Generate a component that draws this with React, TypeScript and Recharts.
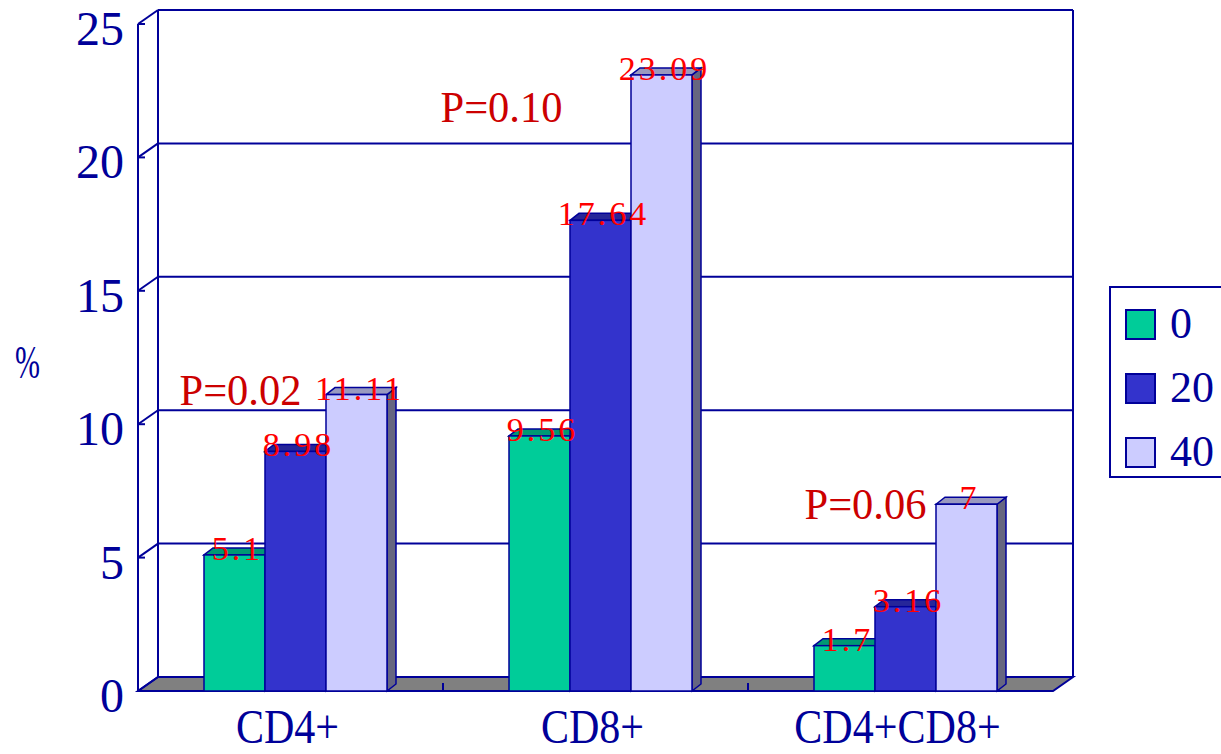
import React from "react";
import {
  BarChart,
  Bar,
  XAxis,
  YAxis,
  CartesianGrid,
  Legend,
  LabelList,
  ReferenceDot,
} from "recharts";

const categories = ["CD4+", "CD8+", "CD4+CD8+"];
const seriesNames = ["0", "20", "40"];
const series0 = [5.1, 9.56, 1.7];
const series20 = [8.98, 17.64, 3.16];
const series40 = [11.11, 23.09, 7];
const yTicks = [0, 5, 10, 15, 20, 25];
const pLabels = ["P=0.02", "P=0.10", "P=0.06"];
const pLabelLevels = [11.3, 21.9, 7.0];
const pLabelShift = [-50, -94, -35];

const data = categories.map((c, i) => ({
  name: c,
  s0: series0[i],
  s20: series20[i],
  s40: series40[i],
}));

const FONT = "'Liberation Serif', 'DejaVu Serif', serif";
const NAVY = "#000099";
const WALL_DX = 20;
const WALL_DY = -14;
const BAR_DX = 9;
const BAR_DY = -7;
const BAR_SHIFT = 5;

const palette = [
  { front: "#00CC99", top: "#009973", side: "#006B50" },
  { front: "#3333CC", top: "#262699", side: "#1A1A66" },
  { front: "#CCCCFF", top: "#9999BF", side: "#666680" },
];

const renderWall = (p: any) => {
  const { x1, y1, x2, index, x, y, width, height } = p;
  const bottom = y + height;
  const parts: any[] = [];
  if (index === 0) {
    const n = categories.length;
    parts.push(
      <polygon
        key="floor"
        points={`${x},${bottom} ${x + WALL_DX},${bottom + WALL_DY} ${x + width + WALL_DX},${bottom + WALL_DY} ${x + width},${bottom}`}
        fill="#808080"
        stroke={NAVY}
        strokeWidth={2}
      />
    );
    parts.push(
      <line key="lb" x1={x + WALL_DX} y1={y + WALL_DY} x2={x + WALL_DX} y2={bottom + WALL_DY} stroke={NAVY} strokeWidth={2} />
    );
    parts.push(
      <line key="rb" x1={x + width + WALL_DX} y1={y + WALL_DY} x2={x + width + WALL_DX} y2={bottom + WALL_DY} stroke={NAVY} strokeWidth={2} />
    );
    parts.push(
      <line key="fa" x1={x} y1={y} x2={x} y2={bottom + 1} stroke={NAVY} strokeWidth={2} />
    );
    for (let k = 1; k < n; k++) {
      const bx = x + (width * k) / n;
      parts.push(
        <line key={`bt${k}`} x1={bx} y1={bottom} x2={bx} y2={bottom - 8} stroke={NAVY} strokeWidth={2} />
      );
    }
  }
  parts.push(
    <line key="g" x1={x1 + WALL_DX} y1={y1 + WALL_DY} x2={x2 + WALL_DX} y2={y1 + WALL_DY} stroke={NAVY} strokeWidth={2} />
  );
  parts.push(
    <line key="d" x1={x1} y1={y1} x2={x1 + WALL_DX} y2={y1 + WALL_DY} stroke={NAVY} strokeWidth={2} />
  );
  if (Math.abs(y1 - bottom) > 1) {
    parts.push(<line key="t" x1={x1} y1={y1} x2={x1 + 7} y2={y1} stroke={NAVY} strokeWidth={2} />);
  }
  return <g key={p.key}>{parts}</g>;
};

const makeBarShape = (si: number) => (props: any) => {
  const { y, width, height } = props;
  const x = props.x + BAR_SHIFT;
  const c = palette[si];
  if (height == null || width == null) return <g />;
  return (
    <g>
      <polygon
        points={`${x + width},${y} ${x + width + BAR_DX},${y + BAR_DY} ${x + width + BAR_DX},${y + height + BAR_DY} ${x + width},${y + height}`}
        fill={c.side}
        stroke={NAVY}
        strokeWidth={1.5}
      />
      <polygon
        points={`${x},${y} ${x + BAR_DX},${y + BAR_DY} ${x + width + BAR_DX},${y + BAR_DY} ${x + width},${y}`}
        fill={c.top}
        stroke={NAVY}
        strokeWidth={1.5}
      />
      <rect x={x} y={y} width={width} height={height} fill={c.front} stroke={NAVY} strokeWidth={1.5} />
    </g>
  );
};

const renderValueLabel = (props: any) => {
  const { x, y, width, value } = props;
  return (
    <text
      x={x + BAR_SHIFT + width / 2 + 3}
      y={y + 5}
      textAnchor="middle"
      fill="#FF0000"
      fontSize={34}
      fontFamily={FONT}
      letterSpacing={3}
    >
      {String(value)}
    </text>
  );
};

const YTick = (props: any) => {
  const { x, y, payload } = props;
  return (
    <text x={x} y={y + 21} textAnchor="end" fill={NAVY} fontSize={48} fontFamily={FONT}>
      {payload.value}
    </text>
  );
};

const XTick = (props: any) => {
  const { x, y, payload } = props;
  const len = String(payload.value).length * 25.8;
  return (
    <text
      x={x - 3}
      y={y + 44}
      textAnchor="middle"
      fill={NAVY}
      fontSize={48}
      fontFamily={FONT}
      textLength={len}
      lengthAdjust="spacingAndGlyphs"
    >
      {payload.value}
    </text>
  );
};

const PercentLabel = (props: any) => {
  const vb = props.viewBox || { x: 0, y: 0, height: 0 };
  return (
    <text
      x={vb.x + 15}
      y={vb.y + vb.height / 2 + 20}
      fill={NAVY}
      fontSize={46}
      fontFamily={FONT}
      textLength={25}
      lengthAdjust="spacingAndGlyphs"
    >
      %
    </text>
  );
};

const LegendContent = (props: any) => {
  const { payload } = props;
  return (
    <div
      style={{
        width: 110,
        height: 188,
        borderTop: `2px solid ${NAVY}`,
        borderBottom: `2px solid ${NAVY}`,
        borderLeft: `2px solid ${NAVY}`,
        position: "relative",
        background: "#fff",
      }}
    >
      {(payload || []).map((entry: any, i: number) => (
        <div
          key={entry.value}
          style={{ position: "absolute", left: 14, top: 20 + i * 64, height: 32, display: "flex", alignItems: "center" }}
        >
          <div
            style={{
              width: 27,
              height: 27,
              background: palette[i].front,
              border: `2px solid ${NAVY}`,
            }}
          />
          <span
            style={{
              marginLeft: 14,
              fontFamily: FONT,
              fontSize: 44,
              color: NAVY,
              lineHeight: "32px",
            }}
          >
            {entry.value}
          </span>
        </div>
      ))}
    </div>
  );
};

export default function App() {
  return (
    <div style={{ position: "absolute", left: 0, top: 0, width: 1221, height: 754, overflow: "hidden", background: "#fff" }}>
      <BarChart
        width={1221}
        height={754}
        data={data}
        margin={{ top: 24, right: 168, bottom: 0, left: 0 }}
        barCategoryGap="20%"
        barGap={0}
      >
        <CartesianGrid horizontal={renderWall} vertical={false} />
        <XAxis
          dataKey="name"
          height={63}
          axisLine={false}
          tickLine={false}
          tick={<XTick />}
          interval={0}
        />
        <YAxis
          width={138}
          domain={[0, 25]}
          ticks={yTicks}
          axisLine={false}
          tickLine={false}
          tick={<YTick />}
          tickSize={0}
          tickMargin={14}
          label={<PercentLabel />}
        />
        <Legend
          layout="horizontal"
          verticalAlign="middle"
          align="center"
          content={<LegendContent />}
          wrapperStyle={{ left: 1109, top: 286, width: 112, height: 192 }}
        />
        <Bar dataKey="s0" name={seriesNames[0]} fill={palette[0].front} shape={makeBarShape(0)} isAnimationActive={false}>
          <LabelList dataKey="s0" content={renderValueLabel} />
        </Bar>
        <Bar dataKey="s20" name={seriesNames[1]} fill={palette[1].front} shape={makeBarShape(1)} isAnimationActive={false}>
          <LabelList dataKey="s20" content={renderValueLabel} />
        </Bar>
        <Bar dataKey="s40" name={seriesNames[2]} fill={palette[2].front} shape={makeBarShape(2)} isAnimationActive={false}>
          <LabelList dataKey="s40" content={renderValueLabel} />
        </Bar>
        {categories.map((c, i) => (
          <ReferenceDot
            key={c}
            x={c}
            y={pLabelLevels[i]}
            r={0}
            shape={(sp: any) => (
              <text
                x={sp.cx + pLabelShift[i]}
                y={sp.cy + 15}
                textAnchor="middle"
                fill="#CC0000"
                fontSize={44}
                fontFamily={FONT}
                textLength={122}
                lengthAdjust="spacingAndGlyphs"
              >
                {pLabels[i]}
              </text>
            )}
          />
        ))}
      </BarChart>
    </div>
  );
}
